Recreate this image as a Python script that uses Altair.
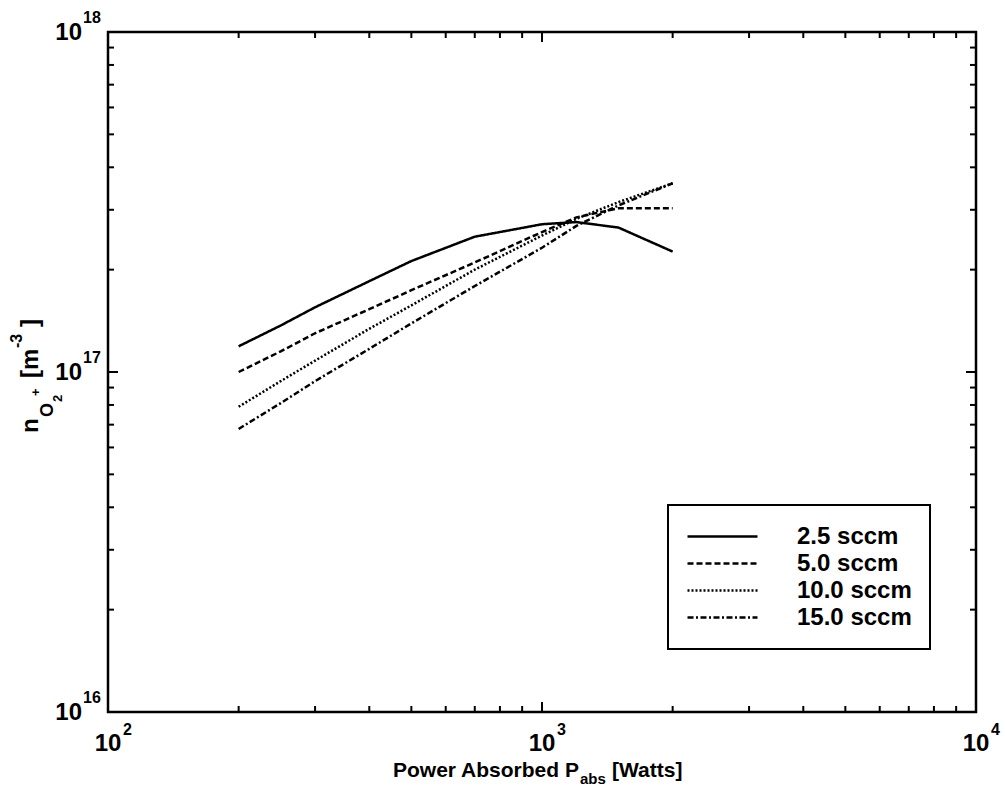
import altair as alt
import pandas as pd

# Absorbed RF power [W]
POWER = [200, 250, 300, 400, 500, 700, 1000, 1200, 1500, 2000]

# O2+ ion density [m^-3] for each oxygen flow rate
FLOW_LABELS = ["2.5 sccm", "5.0 sccm", "10.0 sccm", "15.0 sccm"]
N_FLOW_2_5 = [1.19e17, 1.37e17, 1.55e17, 1.85e17, 2.12e17, 2.50e17, 2.72e17, 2.76e17, 2.66e17, 2.26e17]
N_FLOW_5_0 = [1.00e17, 1.15e17, 1.30e17, 1.53e17, 1.74e17, 2.10e17, 2.58e17, 2.85e17, 3.03e17, 3.03e17]
N_FLOW_10_0 = [7.9e16, 9.4e16, 1.08e17, 1.34e17, 1.57e17, 2.00e17, 2.52e17, 2.82e17, 3.16e17, 3.59e17]
N_FLOW_15_0 = [6.8e16, 8.1e16, 9.4e16, 1.17e17, 1.39e17, 1.79e17, 2.32e17, 2.69e17, 3.09e17, 3.59e17]
SERIES = [N_FLOW_2_5, N_FLOW_5_0, N_FLOW_10_0, N_FLOW_15_0]

# solid, dashed, dotted, dash-dot
DASHES = [[1, 0], [6, 3], [2, 2], [6, 2.5, 2, 2.5]]

# log axis ticks
X_MAJOR = [100, 1000, 10000]
X_EXP = ["2", "3", "4"]
X_MINOR = [200, 300, 400, 500, 600, 700, 800, 900,
           2000, 3000, 4000, 5000, 6000, 7000, 8000, 9000]
Y_MAJOR = [1e16, 1e17, 1e18]
Y_EXP = ["16", "17", "18"]
Y_MINOR = [2e16, 3e16, 4e16, 5e16, 6e16, 7e16, 8e16, 9e16,
           2e17, 3e17, 4e17, 5e17, 6e17, 7e17, 8e17, 9e17]

FONT = "Liberation Sans"
W, H = 868, 680

rows = []
for label, values in zip(FLOW_LABELS, SERIES):
    for p, n in zip(POWER, values):
        rows.append({"P": p, "n": n, "flow": label})
df = pd.DataFrame(rows)

xs = alt.Scale(type="log", domain=[100, 10000], nice=False)
ys = alt.Scale(type="log", domain=[1e16, 1e18], nice=False)

lines = alt.Chart(df).mark_line(color="black", strokeWidth=2.5).encode(
    x=alt.X("P:Q", scale=xs, axis=None),
    y=alt.Y("n:Q", scale=ys, axis=None),
    strokeDash=alt.StrokeDash(
        "flow:N",
        scale=alt.Scale(domain=FLOW_LABELS, range=DASHES),
        sort=FLOW_LABELS,
        legend=alt.Legend(
            title=None,
            orient="none",
            legendX=560,
            legendY=473,
            padding=18,
            strokeColor="black",
            fillColor="white",
            symbolType="stroke",
            symbolSize=4900,
            symbolStrokeWidth=2.5,
            symbolStrokeColor="black",
            clipHeight=27,
            rowPadding=0,
            labelFont=FONT,
            labelFontSize=24,
            labelFontWeight="bold",
            labelColor="black",
            labelOffset=38,
        ),
    ),
)


def x_ticks(vals, y0, y1, width):
    return alt.Chart(pd.DataFrame({"v": vals})).mark_rule(
        color="black", strokeWidth=width
    ).encode(x=alt.X("v:Q", scale=xs, axis=None), y=alt.value(y0), y2=alt.value(y1))


def y_ticks(vals, x0, x1, width):
    return alt.Chart(pd.DataFrame({"v": vals})).mark_rule(
        color="black", strokeWidth=width
    ).encode(y=alt.Y("v:Q", scale=ys, axis=None), x=alt.value(x0), x2=alt.value(x1))


MAJ, MIN = 10, 6
ticks = [
    x_ticks(X_MAJOR, H, H - MAJ, 2), x_ticks(X_MINOR, H, H - MIN, 2),
    x_ticks(X_MAJOR, 0, MAJ, 2), x_ticks(X_MINOR, 0, MIN, 2),
    y_ticks(Y_MAJOR, 0, MAJ, 2), y_ticks(Y_MINOR, 0, MIN, 2),
    y_ticks(Y_MAJOR, W, W - MAJ, 2), y_ticks(Y_MINOR, W, W - MIN, 2),
]

x_lab = pd.DataFrame({"v": X_MAJOR, "e": X_EXP})
y_lab = pd.DataFrame({"v": Y_MAJOR, "e": Y_EXP})

x_base = alt.Chart(x_lab).mark_text(
    font=FONT, fontSize=24, fontWeight="bold", align="center", baseline="alphabetic", color="black"
).encode(x=alt.X("v:Q", scale=xs, axis=None), y=alt.value(719), text=alt.value("10"))
x_exp = alt.Chart(x_lab).mark_text(
    font=FONT, fontSize=16, fontWeight="bold", align="left", baseline="alphabetic", dx=15, color="black"
).encode(x=alt.X("v:Q", scale=xs, axis=None), y=alt.value(703), text="e:N")

y_base = alt.Chart(y_lab).mark_text(
    font=FONT, fontSize=24, fontWeight="bold", align="right", baseline="alphabetic", dy=8, color="black"
).encode(y=alt.Y("v:Q", scale=ys, axis=None), x=alt.value(-26), text=alt.value("10"))
y_exp = alt.Chart(y_lab).mark_text(
    font=FONT, fontSize=16, fontWeight="bold", align="left", baseline="alphabetic", dy=-9, color="black"
).encode(y=alt.Y("v:Q", scale=ys, axis=None), x=alt.value(-25), text="e:N")


def piece(text, x, y, size, angle=0):
    return alt.Chart(alt.Data(values=[{"t": text}])).mark_text(
        font=FONT, fontSize=size, fontWeight="bold", align="left",
        baseline="alphabetic", angle=angle, color="black"
    ).encode(x=alt.value(x), y=alt.value(y), text="t:N")


# x-axis title: Power Absorbed P_abs [Watts]
x_title = [
    piece("Power Absorbed P", 285, 745, 21),
    piece("abs", 472, 752, 15),
    piece("[Watts]", 504, 745, 21),
]

# y-axis title: n_{O2+} [m^-3], rotated
y_title = [
    piece("n", -70, 401, 24, 270),
    piece("O", -55, 385, 18, 270),
    piece("2", -46, 370, 13, 270),
    piece("+", -68, 364, 13, 270),
    piece("[m", -70, 346, 24, 270),
    piece("-3", -86, 316, 16, 270),
    piece("]", -70, 295, 24, 270),
]

chart = alt.layer(
    lines, *ticks, x_base, x_exp, y_base, y_exp, *x_title, *y_title
).properties(
    width=W,
    height=H,
    padding={"left": 108, "top": 32, "right": 29, "bottom": 89},
    autosize=alt.AutoSizeParams(type="none"),
).configure_view(
    stroke="black", strokeWidth=2.5
).configure_legend(
    strokeWidth=2
)

chart.save("out.html", embed_options={"renderer": "svg", "actions": False})
